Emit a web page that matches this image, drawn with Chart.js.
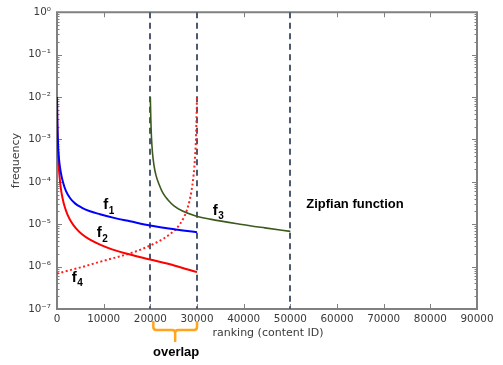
<!DOCTYPE html>
<html>
<head>
<meta charset="utf-8">
<script src="https://cdn.jsdelivr.net/npm/chart.js@4.4.0/dist/chart.umd.min.js"></script>
<style>
  html, body { margin: 0; padding: 0; background: #fff; }
  #wrap { width: 503px; height: 365px; }
</style>
</head>
<body>
<div id="wrap"><canvas id="chart" width="503" height="365"></canvas></div>
<script>
// values: ranking (content ID) -> request frequency
const f1Rank = [0, 64, 171, 321, 536, 857, 1286, 1929, 2786, 3857, 5357, 7071, 9214, 12429, 15643, 19929, 25286, 30000];
const f1Freq = [1e-2, 3.14e-3, 1.08e-3, 4.85e-4, 2.69e-4, 1.58e-4, 9.78e-5, 6.04e-5, 4.16e-5, 3.1e-5, 2.44e-5, 2.02e-5, 1.72e-5, 1.39e-5, 1.17e-5, 9.3e-6, 7.55e-6, 6.5e-6];

const f2Rank = [0, 43, 129, 236, 364, 557, 814, 1179, 1650, 2250, 3000, 4071, 5357, 7071, 9214, 11786, 14571, 19929, 25286, 30000];
const f2Freq = [1e-2, 3.14e-3, 1.08e-3, 4.85e-4, 2.42e-4, 1.28e-4, 7.1e-5, 4.16e-5, 2.57e-5, 1.68e-5, 1.16e-5, 7.96e-6, 5.78e-6, 4.31e-6, 3.3e-6, 2.55e-6, 2.06e-6, 1.47e-6, 1.05e-6, 7.4e-7];

const f3Rank = [20000, 20100, 20250, 20460, 20790, 21214, 21857, 22714, 23786, 25071, 26786, 29571, 32786, 39214, 44571, 50000];
const f3Freq = [1e-2, 3.1e-3, 1.08e-3, 4.85e-4, 2.42e-4, 1.42e-4, 8.8e-5, 5.4e-5, 3.74e-5, 2.72e-5, 2.08e-5, 1.59e-5, 1.32e-5, 1e-5, 8.2e-6, 6.78e-6];

const f4Rank = [0, 2786, 5571, 9214, 12857, 15643, 17786, 19929, 21643, 23143, 24429, 25500, 26357, 27214, 27857, 28393, 28821, 29143, 29421, 29636, 29786, 29893, 30000];
const f4Freq = [6.83e-7, 8.24e-7, 9.93e-7, 1.3e-6, 1.67e-6, 2.06e-6, 2.48e-6, 3.13e-6, 3.87e-6, 4.79e-6, 6.09e-6, 7.74e-6, 1.01e-5, 1.47e-5, 2.19e-5, 3.55e-5, 6.04e-5, 1.09e-4, 2.18e-4, 4.85e-4, 1.08e-3, 3.14e-3, 1e-2];

const rankTicks = [0, 10000, 20000, 30000, 40000, 50000, 60000, 70000, 80000, 90000];
const freqTicks = [1e-7, 1e-6, 1e-5, 1e-4, 1e-3, 1e-2, 1e-1, 1];
const boundaryRanks = [20000, 30000, 50000];
const overlapRanks = [20000, 30000];

const SUP = { '-': '\u207B', '0': '\u2070', '1': '\u00B9', '2': '\u00B2', '3': '\u00B3',
  '4': '\u2074', '5': '\u2075', '6': '\u2076', '7': '\u2077', '8': '\u2078', '9': '\u2079' };
const pow10Label = v => '10' + String(Math.round(Math.log10(v))).split('').map(c => SUP[c]).join('');
const toPoints = (xs, ys) => xs.map((x, i) => ({ x, y: ys[i] }));

const AXIS_GREY = '#808080';
const TEXT_GREY = '#3a3a3a';

const decorations = {
  id: 'decorations',
  beforeDatasetsDraw(chart) {
    const { ctx, chartArea: a, scales: { x, y } } = chart;
    ctx.save();

    // frame with inward ticks (matplotlib look), under the curves
    ctx.strokeStyle = AXIS_GREY;
    ctx.lineWidth = 1;
    rankTicks.forEach(r => {
      const px = Math.round(x.getPixelForValue(r)) + 0.5;
      ctx.beginPath();
      ctx.moveTo(px, a.bottom); ctx.lineTo(px, a.bottom - 5);
      ctx.moveTo(px, a.top); ctx.lineTo(px, a.top + 5);
      ctx.stroke();
    });
    freqTicks.forEach(v => {
      const py = Math.round(y.getPixelForValue(v)) + 0.5;
      ctx.beginPath();
      ctx.moveTo(a.left, py); ctx.lineTo(a.left + 5, py);
      ctx.moveTo(a.right, py); ctx.lineTo(a.right - 5, py);
      ctx.stroke();
      if (v < 1) {
        for (let m = 2; m <= 9; m++) {
          const pm = Math.round(y.getPixelForValue(v * m)) + 0.5;
          ctx.beginPath();
          ctx.moveTo(a.left, pm); ctx.lineTo(a.left + 2.5, pm);
          ctx.moveTo(a.right, pm); ctx.lineTo(a.right - 2.5, pm);
          ctx.stroke();
        }
      }
    });
    ctx.lineWidth = 2;
    ctx.strokeRect(a.left, a.top, a.right - a.left, a.bottom - a.top);

    // dashed boundaries
    ctx.strokeStyle = '#4b5a6e';
    ctx.lineWidth = 2;
    ctx.setLineDash([6, 4.5]);
    boundaryRanks.forEach(r => {
      const px = Math.round(x.getPixelForValue(r));
      ctx.beginPath();
      ctx.moveTo(px, a.top);
      ctx.lineTo(px, a.bottom);
      ctx.stroke();
    });
    ctx.restore();
  },
  afterDraw(chart) {
    const { ctx, chartArea: a, scales: { x, y } } = chart;
    ctx.save();

    // axis titles
    ctx.fillStyle = TEXT_GREY;
    ctx.font = '11px "DejaVu Sans"';
    ctx.textAlign = 'center';
    ctx.textBaseline = 'middle';
    ctx.fillText('ranking (content ID)', (a.left + a.right) / 2 + 1, a.bottom + 24);
    ctx.save();
    ctx.translate(16, (a.top + a.bottom) / 2);
    ctx.rotate(-Math.PI / 2);
    ctx.fillText('frequency', 0, 0);
    ctx.restore();

    // curve names f1..f4
    ctx.fillStyle = '#000';
    ctx.textAlign = 'left';
    const curveNames = [
      ['1', 9900, 2.8e-5],
      ['2', 8500, 6.1e-6],
      ['3', 33400, 2.1e-5],
      ['4', 3150, 5.5e-7]
    ];
    curveNames.forEach(([sub, r, f]) => {
      const px = x.getPixelForValue(r);
      const py = y.getPixelForValue(f);
      ctx.font = 'bold 15px "Liberation Sans"';
      ctx.fillText('f', px, py);
      const w = ctx.measureText('f').width;
      ctx.font = 'bold 10px "Liberation Sans"';
      ctx.fillText(sub, px + w + 0.5, py + 6);
    });

    ctx.font = 'bold 13px "Liberation Sans"';
    ctx.fillText('Zipfian function', x.getPixelForValue(53400), y.getPixelForValue(2.86e-5));

    // overlap brace under the x axis
    const l = x.getPixelForValue(overlapRanks[0]) + 3;
    const r = x.getPixelForValue(overlapRanks[1]);
    const mid = (l + r) / 2;
    const top = a.bottom + 12, bar = a.bottom + 21, tip = a.bottom + 33;
    ctx.strokeStyle = '#ffa41c';
    ctx.lineWidth = 2.5;
    ctx.lineJoin = 'round';
    ctx.beginPath();
    ctx.moveTo(l, top);
    ctx.lineTo(l, bar - 3);
    ctx.quadraticCurveTo(l, bar, l + 3, bar);
    ctx.lineTo(mid - 3, bar);
    ctx.quadraticCurveTo(mid, bar, mid, bar + 3);
    ctx.lineTo(mid, tip);
    ctx.moveTo(mid, bar + 3);
    ctx.quadraticCurveTo(mid, bar, mid + 3, bar);
    ctx.lineTo(r - 3, bar);
    ctx.quadraticCurveTo(r, bar, r, bar - 3);
    ctx.lineTo(r, top);
    ctx.stroke();

    ctx.fillStyle = '#000';
    ctx.font = 'bold 13px "Liberation Sans"';
    ctx.textAlign = 'center';
    ctx.fillText('overlap', mid + 1, a.bottom + 43);

    ctx.restore();
  }
};

const line = (data, color, width, dash) => ({
  data,
  borderColor: color,
  borderWidth: width,
  borderDash: dash || [],
  pointRadius: 0,
  fill: false,
  cubicInterpolationMode: 'monotone'
});

new Chart(document.getElementById('chart'), {
  type: 'line',
  data: {
    datasets: [
      line(toPoints(f1Rank, f1Freq), '#0000ff', 2),
      line(toPoints(f2Rank, f2Freq), '#ff0000', 2),
      line(toPoints(f3Rank, f3Freq), '#3b5a1c', 1.6),
      line(toPoints(f4Rank, f4Freq), '#ff2020', 2, [2, 2.5])
    ]
  },
  options: {
    responsive: false,
    animation: false,
    devicePixelRatio: 1,
    layout: { padding: { left: 0, top: 7, right: 26, bottom: 0 } },
    plugins: { legend: { display: false }, tooltip: { enabled: false } },
    scales: {
      x: {
        type: 'linear',
        min: 0,
        max: 90000,
        afterBuildTicks: s => { s.ticks = rankTicks.map(v => ({ value: v })); },
        afterFit: s => { s.height = 56; },
        grid: { display: false, drawTicks: false },
        border: { display: false },
        ticks: {
          color: TEXT_GREY,
          font: { family: 'DejaVu Sans', size: 10.4 },
          padding: 4,
          maxRotation: 0,
          autoSkip: false,
          callback: v => String(v)
        }
      },
      y: {
        type: 'logarithmic',
        min: 1e-7,
        max: 1,
        afterBuildTicks: s => { s.ticks = freqTicks.map(v => ({ value: v })); },
        afterFit: s => { s.width = 57; },
        grid: { display: false, drawTicks: false },
        border: { display: false },
        ticks: {
          color: TEXT_GREY,
          font: { family: 'DejaVu Sans', size: 10.4 },
          padding: 6,
          autoSkip: false,
          callback: v => pow10Label(v)
        }
      }
    }
  },
  plugins: [decorations]
});
</script>
</body>
</html>
